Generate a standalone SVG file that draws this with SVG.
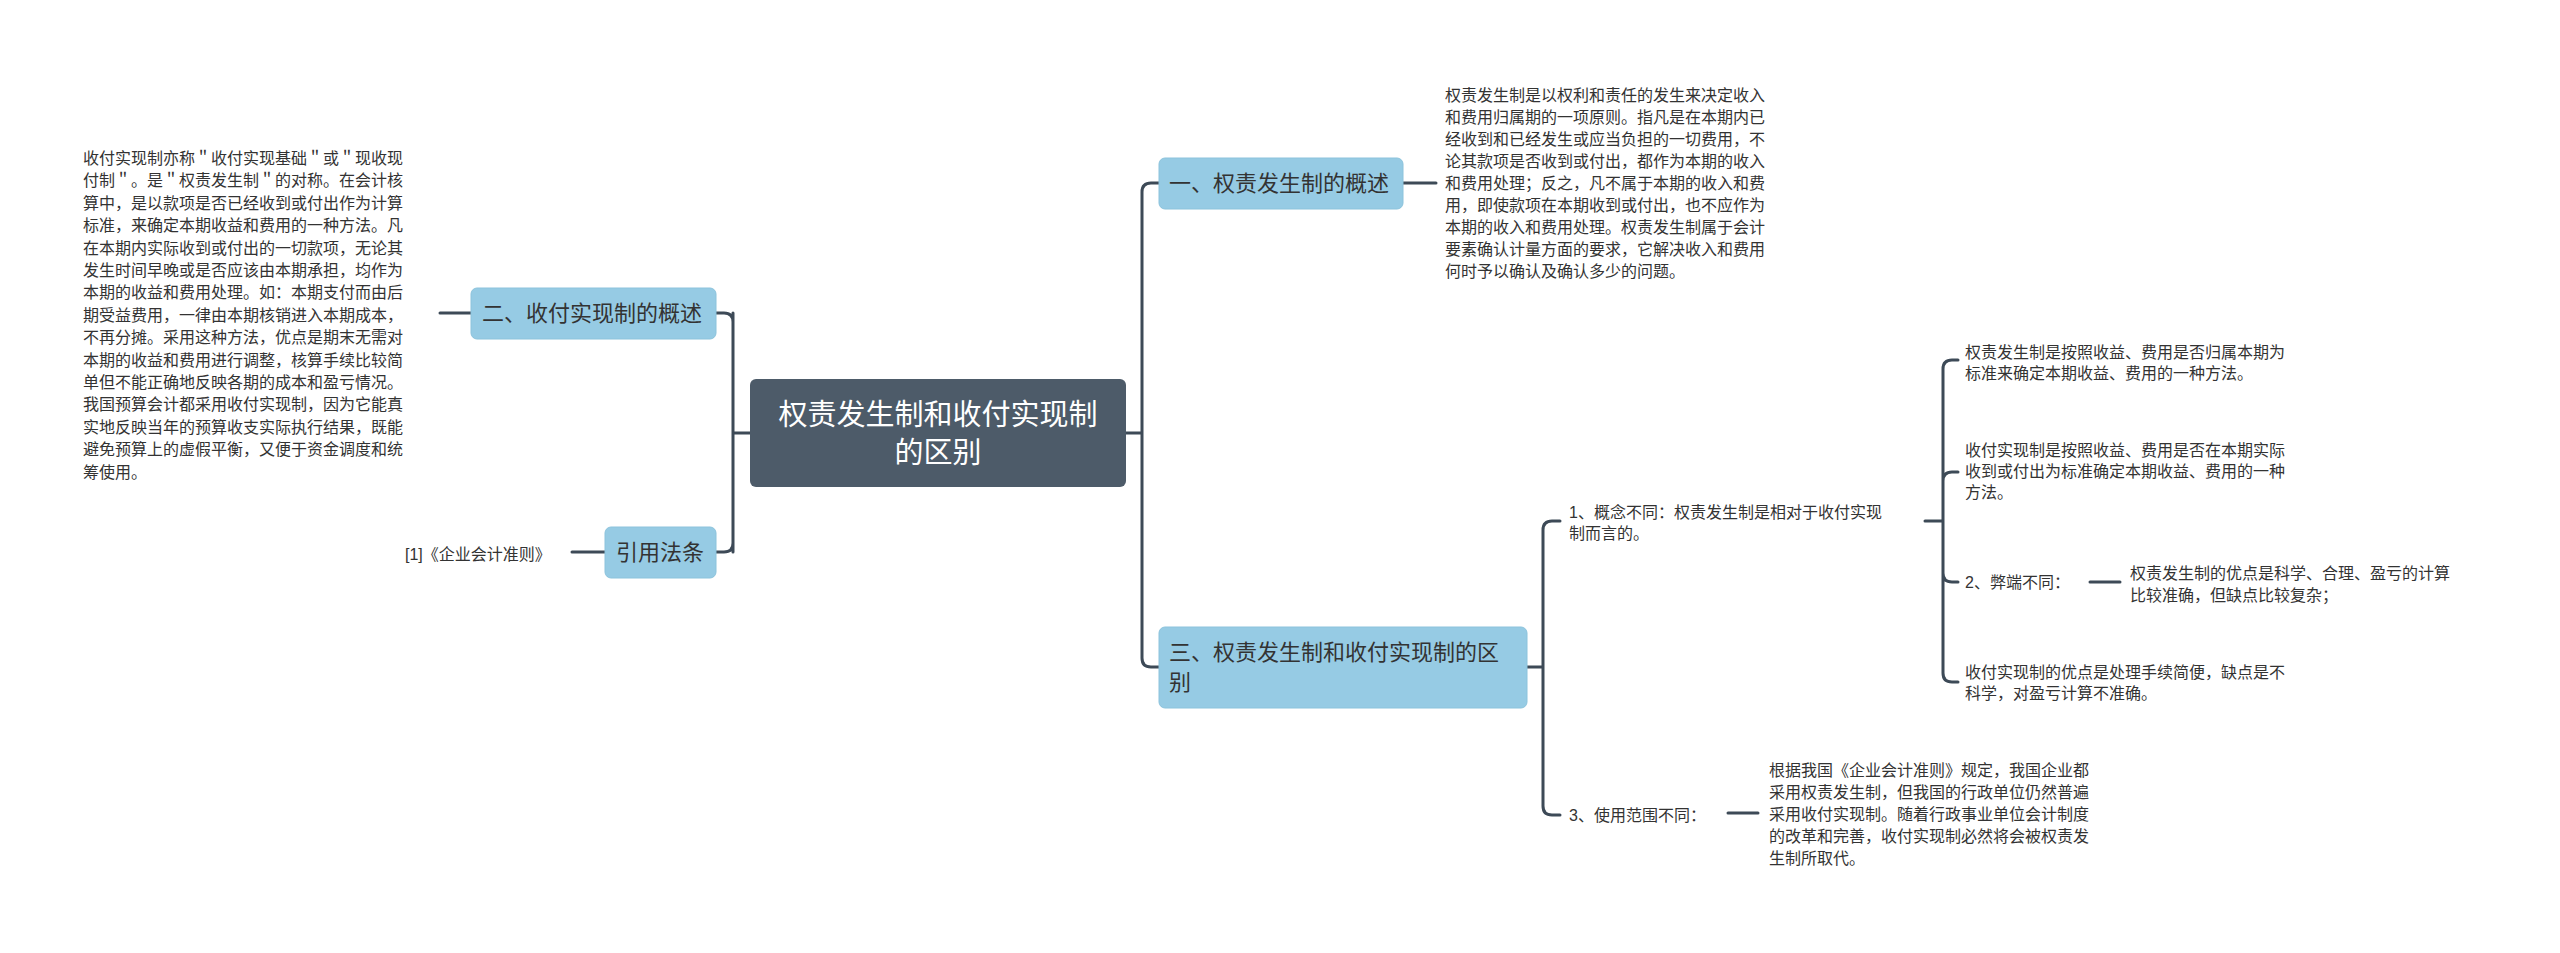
<svg xmlns="http://www.w3.org/2000/svg" width="2560" height="953" viewBox="0 0 2560 953">
<style>
.ln{fill:none;stroke:#3d4a57;stroke-width:3;stroke-linecap:round}
.t{font-family:"Liberation Sans","Noto Sans CJK SC",sans-serif;font-size:16px;fill:#333}
.b{fill:#96cbe4;stroke:#8cc3dc;stroke-width:1}
.bt{font-family:"Liberation Sans","Noto Sans CJK SC",sans-serif;font-size:22px;fill:#333}
</style>
<rect width="2560" height="953" fill="#fff"/>
<g id="connectors">
<path class="ln" d="M750 433 H733 M733 322 Q733 313 724 313 H716 M733 322 V543 Q733 552 724 552 H716 M733 313 V552"/>
<path class="ln" d="M1125 433 H1142 M1142 192 Q1142 183 1151 183 H1159 M1142 192 V658 Q1142 667 1151 667 H1159"/>
<path class="ln" d="M1403 183 H1436"/>
<path class="ln" d="M471 313 H440"/>
<path class="ln" d="M605 552 H572"/>
<path class="ln" d="M1527 667 H1543 M1543 530 Q1543 521 1552 521 H1560 M1543 530 V806 Q1543 815 1552 815 H1560"/>
<path class="ln" d="M1925 521 H1943 M1943 369 Q1943 360 1952 360 H1958 M1943 369 V673 Q1943 682 1952 682 H1958 M1943 481 Q1943 472 1952 472 H1958 M1943 573 Q1943 582 1952 582 H1958"/>
<path class="ln" d="M2090 582 H2120"/>
<path class="ln" d="M1728 813 H1758"/>
</g>
<g id="root">
<rect x="750" y="379" width="376" height="108" rx="6" fill="#4d5b69"/>
<text x="938" y="425" text-anchor="middle" font-family="Liberation Sans,Noto Sans CJK SC,sans-serif" font-size="29" fill="#fff">权责发生制和收付实现制</text>
<text x="938" y="463" text-anchor="middle" font-family="Liberation Sans,Noto Sans CJK SC,sans-serif" font-size="29" fill="#fff">的区别</text>
</g>
<g id="n1">
<rect class="b" x="1159" y="158" width="244" height="51" rx="6"/>
<text class="bt" x="1169" y="191">一、权责发生制的概述</text>
</g>
<g id="n1t">
<text class="t" x="1445" y="101">权责发生制是以权利和责任的发生来决定收入</text>
<text class="t" x="1445" y="123">和费用归属期的一项原则。指凡是在本期内已</text>
<text class="t" x="1445" y="145">经收到和已经发生或应当负担的一切费用，不</text>
<text class="t" x="1445" y="167">论其款项是否收到或付出，都作为本期的收入</text>
<text class="t" x="1445" y="189">和费用处理；反之，凡不属于本期的收入和费</text>
<text class="t" x="1445" y="211">用，即使款项在本期收到或付出，也不应作为</text>
<text class="t" x="1445" y="233">本期的收入和费用处理。权责发生制属于会计</text>
<text class="t" x="1445" y="255">要素确认计量方面的要求，它解决收入和费用</text>
<text class="t" x="1445" y="277">何时予以确认及确认多少的问题。</text>
</g>
<g id="n2">
<rect class="b" x="471" y="288" width="245" height="51" rx="6"/>
<text class="bt" x="482" y="321">二、收付实现制的概述</text>
</g>
<g id="n2t">
<text class="t" x="83" y="164">收付实现制亦称＂收付实现基础＂或＂现收现</text>
<text class="t" x="83" y="186">付制＂。是＂权责发生制＂的对称。在会计核</text>
<text class="t" x="83" y="209">算中，是以款项是否已经收到或付出作为计算</text>
<text class="t" x="83" y="231">标准，来确定本期收益和费用的一种方法。凡</text>
<text class="t" x="83" y="254">在本期内实际收到或付出的一切款项，无论其</text>
<text class="t" x="83" y="276">发生时间早晚或是否应该由本期承担，均作为</text>
<text class="t" x="83" y="298">本期的收益和费用处理。如：本期支付而由后</text>
<text class="t" x="83" y="321">期受益费用，一律由本期核销进入本期成本，</text>
<text class="t" x="83" y="343">不再分摊。采用这种方法，优点是期末无需对</text>
<text class="t" x="83" y="366">本期的收益和费用进行调整，核算手续比较简</text>
<text class="t" x="83" y="388">单但不能正确地反映各期的成本和盈亏情况。</text>
<text class="t" x="83" y="410">我国预算会计都采用收付实现制，因为它能真</text>
<text class="t" x="83" y="433">实地反映当年的预算收支实际执行结果，既能</text>
<text class="t" x="83" y="455">避免预算上的虚假平衡，又便于资金调度和统</text>
<text class="t" x="83" y="478">筹使用。</text>
</g>
<g id="n4">
<rect class="b" x="605" y="527" width="111" height="51" rx="6"/>
<text class="bt" x="660" y="560" text-anchor="middle">引用法条</text>
</g>
<g id="n4t"><text class="t" x="405" y="560">[1]《企业会计准则》</text></g>
<g id="n3">
<rect class="b" x="1159" y="627" width="368" height="81" rx="6"/>
<text class="bt" x="1169" y="660">三、权责发生制和收付实现制的区</text>
<text class="bt" x="1169" y="690">别</text>
</g>
<g id="c1">
<text class="t" x="1569" y="518">1、概念不同：权责发生制是相对于收付实现</text>
<text class="t" x="1569" y="539">制而言的。</text>
</g>
<g id="c1a">
<text class="t" x="1965" y="358">权责发生制是按照收益、费用是否归属本期为</text>
<text class="t" x="1965" y="379">标准来确定本期收益、费用的一种方法。</text>
</g>
<g id="c1b">
<text class="t" x="1965" y="456">收付实现制是按照收益、费用是否在本期实际</text>
<text class="t" x="1965" y="477">收到或付出为标准确定本期收益、费用的一种</text>
<text class="t" x="1965" y="498">方法。</text>
</g>
<g id="c2"><text class="t" x="1965" y="588">2、弊端不同：</text></g>
<g id="c2t">
<text class="t" x="2130" y="579">权责发生制的优点是科学、合理、盈亏的计算</text>
<text class="t" x="2130" y="601">比较准确，但缺点比较复杂；</text>
</g>
<g id="c1d">
<text class="t" x="1965" y="678">收付实现制的优点是处理手续简便，缺点是不</text>
<text class="t" x="1965" y="699">科学，对盈亏计算不准确。</text>
</g>
<g id="c3"><text class="t" x="1569" y="821">3、使用范围不同：</text></g>
<g id="c3t">
<text class="t" x="1769" y="776">根据我国《企业会计准则》规定，我国企业都</text>
<text class="t" x="1769" y="798">采用权责发生制，但我国的行政单位仍然普遍</text>
<text class="t" x="1769" y="820">采用收付实现制。随着行政事业单位会计制度</text>
<text class="t" x="1769" y="842">的改革和完善，收付实现制必然将会被权责发</text>
<text class="t" x="1769" y="864">生制所取代。</text>
</g>
</svg>
